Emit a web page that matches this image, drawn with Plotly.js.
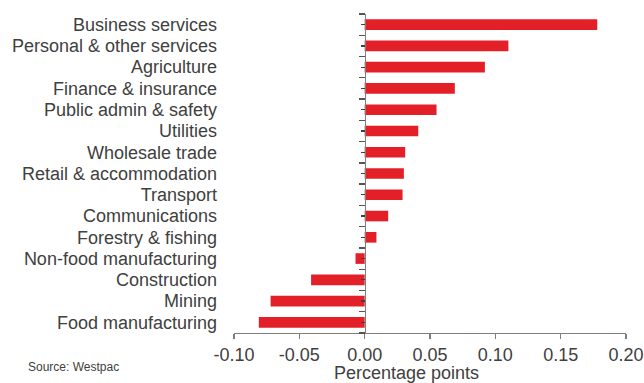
<!DOCTYPE html>
<html>
<head>
<meta charset="utf-8">
<script src="https://cdn.plot.ly/plotly-3.0.1.min.js"></script>
<style>html,body{margin:0;padding:0;background:#fff;}#chart{width:644px;height:383px;}</style>
</head>
<body>
<div id="chart"></div>
<script>
var categories = ["Business services","Personal & other services","Agriculture","Finance & insurance","Public admin & safety","Utilities","Wholesale trade","Retail & accommodation","Transport","Communications","Forestry & fishing","Non-food manufacturing","Construction","Mining","Food manufacturing"];
var values = [0.178, 0.110, 0.092, 0.069, 0.055, 0.041, 0.031, 0.030, 0.029, 0.018, 0.009, -0.007, -0.041, -0.072, -0.081];
var xTicks = [-0.10, -0.05, 0.00, 0.05, 0.10, 0.15, 0.20];
var xTickLabels = ["-0.10", "-0.05", "0.00", "0.05", "0.10", "0.15", "0.20"];

var zeros = categories.map(function(){return 0;});
var txtColor = '#404040';
var axColor = '#7f7f7f';

var traces = [
  {type:'bar', orientation:'h', y:categories, x:values, yaxis:'y',
   marker:{color:'#e32028', line:{width:0}}, width:0.5, hoverinfo:'x+y'},
  {type:'bar', orientation:'h', y:categories, x:zeros, yaxis:'y2',
   marker:{color:'rgba(0,0,0,0)'}, showlegend:false, hoverinfo:'skip'},
  {type:'bar', orientation:'h', y:categories, x:zeros, yaxis:'y3',
   marker:{color:'rgba(0,0,0,0)'}, showlegend:false, hoverinfo:'skip'}
];

var yRange = [categories.length - 0.5, -0.5];
var zeroPos = (0 - xTicks[0]) / (xTicks[xTicks.length-1] - xTicks[0]);

var layout = {
  width:644, height:383,
  margin:{l:233.5, r:18, t:14, b:50},
  paper_bgcolor:'#fff', plot_bgcolor:'#fff',
  showlegend:false,
  font:{family:'Liberation Sans, Arial, sans-serif', color:txtColor, size:18},
  xaxis:{range:[xTicks[0], xTicks[xTicks.length-1]], tickmode:'array', tickvals:xTicks, ticktext:xTickLabels,
    showgrid:false, zeroline:false, showline:true, linecolor:axColor, linewidth:1.3,
    ticks:'outside', ticklen:5, tickcolor:axColor, tickwidth:1.3,
    tickfont:{size:18, color:txtColor}},
  yaxis:{type:'category', categoryorder:'array', categoryarray:categories, range:yRange,
    tickmode:'array', tickvals:categories, ticktext:categories,
    showgrid:false, zeroline:false, showline:false, ticks:'', ticklabelstandoff:16,
    tickfont:{size:18, color:txtColor}},
  yaxis2:{type:'category', categoryorder:'array', categoryarray:categories, range:yRange,
    tickmode:'array', tickvals:categories,
    overlaying:'y', anchor:'free', position:zeroPos, side:'left',
    showgrid:false, zeroline:false, showline:true, linecolor:axColor, linewidth:1.5,
    ticks:'outside', tickson:'boundaries', ticklen:6, tickcolor:'#555555', tickwidth:1.3,
    showticklabels:false},
  yaxis3:{type:'category', categoryorder:'array', categoryarray:categories, range:yRange,
    tickmode:'array', tickvals:categories,
    overlaying:'y', anchor:'free', position:zeroPos, side:'left',
    showgrid:false, zeroline:false, showline:false,
    ticks:'outside', ticklen:4, tickcolor:'#404040', tickwidth:1.3,
    showticklabels:false},
  bargap:0.5,
  annotations:[
    {text:'Source: Westpac', xref:'paper', yref:'paper', x:-0.531, y:-0.107,
     xanchor:'left', yanchor:'middle', showarrow:false, font:{size:12, color:txtColor}},
    {text:'Percentage points', xref:'paper', yref:'paper', x:0.441, y:-0.125,
     xanchor:'center', yanchor:'middle', showarrow:false, font:{size:18, color:txtColor}}
  ]
};

Plotly.newPlot('chart', traces, layout, {displayModeBar:false, staticPlot:true});
</script>
</body>
</html>
